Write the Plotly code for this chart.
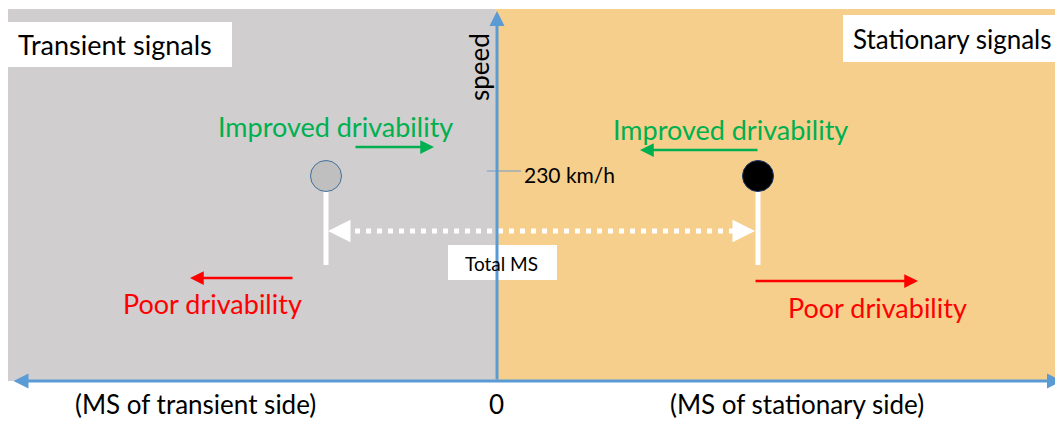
import plotly.graph_objects as go

# ---- data ----
side_titles = ["Transient signals", "Stationary signals"]
axis_labels = ["(MS of transient side)", "0", "(MS of stationary side)"]
speed_axis_title = "speed"
point_ms = [-171, 261]          # MS: transient side negative, stationary side positive
point_speed = [230, 230]        # km/h
speed_tick = 230
speed_tick_label = "230 km/h"
improved_label = "Improved drivability"
poor_label = "Poor drivability"
total_label = "Total MS"

# the page adds an 8 px body margin, so the figure is drawn 8 px smaller
OFF = 8
W, H = 1063 - OFF, 421 - OFF
FONT = "Lato"

def PX(x):
    return (x - OFF) / W

def PY(y):
    return 1 - (y - OFF) / H

# speed scale: 0 km/h at page row 381, 230 km/h at row 176 ; MS 0 at page column 497
X0 = 497
k = (381 - 176) / 230.0
y_lo = (381 - 421) / k
y_hi = (381 - OFF) / k

fig = go.Figure()

GRAY = "#D0CECE"
ORANGE = "#F5CF8B"
BLUE = "#5B9BD5"
GREEN = "#00B050"
RED = "#FF0000"

shapes = []
# backgrounds
shapes.append(dict(type="rect", xref="paper", yref="paper", x0=PX(8), x1=PX(495), y0=PY(381), y1=PY(9),
                   fillcolor=GRAY, line=dict(width=0), layer="below"))
shapes.append(dict(type="rect", xref="paper", yref="paper", x0=PX(495), x1=1, y0=PY(381), y1=PY(9),
                   fillcolor=ORANGE, line=dict(width=0), layer="below"))
# white boxes
for (x0, y0, x1, y1) in [(8, 22, 232, 67), (843, 15, 1063, 62), (448, 245, 557, 280)]:
    shapes.append(dict(type="rect", xref="paper", yref="paper", x0=PX(x0), x1=PX(x1), y0=PY(y1), y1=PY(y0),
                       fillcolor="white", line=dict(width=0), layer="below"))
# speed tick
shapes.append(dict(type="line", xref="paper", yref="paper", x0=PX(487), x1=PX(521), y0=PY(171), y1=PY(171),
                   line=dict(color="#6F9CC8", width=1), layer="below"))
# white stems from the points (under the markers)
stem_px = 89
for xm, ys in zip(point_ms, point_speed):
    shapes.append(dict(type="line", xref="x", yref="y", x0=xm, x1=xm, y0=ys, y1=ys - stem_px / k,
                       line=dict(color="white", width=5), layer="below"))
# dotted "Total MS" line
dot_y = point_speed[0] - 55 / k
shapes.append(dict(type="line", xref="x", yref="y", x0=point_ms[0] + 18, x1=point_ms[1] - 18,
                   y0=dot_y, y1=dot_y, line=dict(color="white", width=5, dash="5px,6px"), layer="below"))
fig.update_layout(shapes=shapes)

# points
fig.add_trace(go.Scatter(x=[point_ms[0]], y=[point_speed[0]], mode="markers",
                         marker=dict(size=31, color="#BFBFBF", line=dict(color="#41719C", width=1)),
                         showlegend=False, hoverinfo="skip"))
fig.add_trace(go.Scatter(x=[point_ms[1]], y=[point_speed[1]], mode="markers",
                         marker=dict(size=31, color="black", line=dict(color="#203864", width=1)),
                         showlegend=False, hoverinfo="skip"))

ann = []

def arrow(x, y, ax, ay, color, width, size=1.0, head=2):
    ann.append(dict(xref="paper", yref="paper", x=PX(x), y=PY(y), ax=ax, ay=ay, text="",
                    showarrow=True, arrowhead=head, arrowsize=size, arrowwidth=width,
                    arrowcolor=color, standoff=0, startstandoff=0))

# axes arrows
arrow(497, 11, 0, 370, BLUE, 3, 1.0, 2)                  # vertical (speed)
ann.append(dict(xref="paper", yref="paper", x=PX(1062), y=PY(381), ax=-1050, ay=0, text="",
                showarrow=True, arrowhead=2, startarrowhead=2, arrowsize=1.0, startarrowsize=1.0,
                arrowwidth=3, arrowcolor=BLUE, arrowside="end+start", standoff=0, startstandoff=0))
# green arrows
arrow(434, 147, -80, 0, GREEN, 2.5, 1.1, 2)
arrow(640, 150, 119, 0, GREEN, 2.5, 1.1, 2)
# red arrows
arrow(190, 278, 104, 0, RED, 2.5, 1.1, 2)
arrow(918, 281, -164, 0, RED, 2.5, 1.1, 2)
# dotted arrow heads
arrow(328, 231, 16, 0, "white", 5, 0.9, 2)
arrow(755, 231, -16, 0, "white", 5, 0.9, 2)

def text(x, y, s, size, color="black", xanchor="center", angle=0):
    ann.append(dict(xref="paper", yref="paper", x=PX(x), y=PY(y), text=s, showarrow=False,
                    xanchor=xanchor, yanchor="middle", textangle=angle,
                    font=dict(family=FONT, size=size, color=color)))

text(16, 44, side_titles[0], 27, xanchor="left")
text(851, 39, side_titles[1], 26, xanchor="left")
text(479, 67, speed_axis_title, 26, angle=-90)
text(522, 174, speed_tick_label, 21, xanchor="left")
text(335, 126, improved_label, 27, GREEN)
text(730, 130, improved_label, 27, GREEN)
text(212, 303, poor_label, 27, RED)
text(877, 307, poor_label, 27, RED)
text(501, 263, total_label, 19)
text(195, 404, axis_labels[0], 26)
text(496, 404, axis_labels[1], 26)
text(797, 404, axis_labels[2], 26)

fig.update_layout(annotations=ann)

fig.update_layout(
    width=W, height=H,
    margin=dict(l=0, r=0, t=0, b=0),
    paper_bgcolor="white", plot_bgcolor="rgba(0,0,0,0)",
    xaxis=dict(range=[OFF - X0, 1063 - X0], visible=False, fixedrange=True),
    yaxis=dict(range=[y_lo, y_hi], visible=False, fixedrange=True),
    showlegend=False,
)

fig.write_html("out.html")
